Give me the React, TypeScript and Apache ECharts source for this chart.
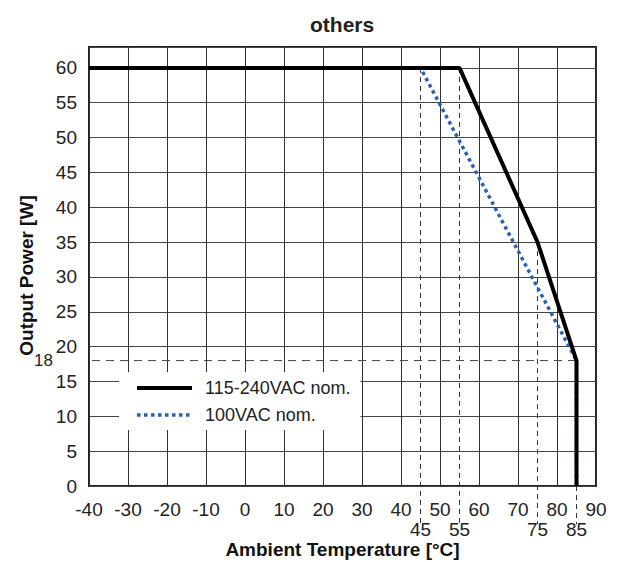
import React, { useEffect, useRef } from "react";
import * as echarts from "echarts";

const FONT = "'Liberation Sans', Arial, sans-serif";

const TITLE = "others";
const X_NAME = "Ambient Temperature [°C]";
const Y_NAME = "Output Power [W]";

const X_MIN = -40;
const X_MAX = 90;
const Y_MIN = 0;
const Y_MAX = 63;

const EXTRA_X_LABELS = [45, 55, 75, 85];
const EXTRA_Y_LABELS = [18];

const SERIES_A_NAME = "115-240VAC nom.";
const SERIES_A: [number, number][] = [
  [-40, 60],
  [55, 60],
  [75, 35],
  [85, 18],
  [85, 0],
];

const SERIES_B_NAME = "100VAC nom.";
const SERIES_B: [number, number][] = [
  [-40, 60],
  [45, 60],
  [85, 18],
  [85, 0],
];

// dashed reference lines (vertical / horizontal)
const REF_VERTICAL: [number, number][][] = [
  [[45, 60], [45, -5.5]],
  [[55, 60], [55, -5.5]],
  [[75, 35], [75, -5.5]],
  [[85, 0], [85, -5.5]],
];
const REF_HORIZONTAL: [number, number][][] = [[[-50, 18], [85, 18]]];

const BLACK = "#000";
const BLUE = "#2b5fb4";

export default function App() {
  const ref = useRef<HTMLDivElement>(null);

  useEffect(() => {
    if (!ref.current) return;
    const chart = echarts.init(ref.current, undefined, { renderer: "svg" });

    const refSeries: any[] = [];
    REF_VERTICAL.forEach((seg) =>
      refSeries.push({
        type: "line",
        data: seg,
        symbol: "none",
        silent: true,
        clip: false,
        z: 3,
        lineStyle: { color: "#333", width: 1, type: [5, 4] },
      })
    );
    REF_HORIZONTAL.forEach((seg) =>
      refSeries.push({
        type: "line",
        data: seg,
        symbol: "none",
        silent: true,
        clip: false,
        z: 3,
        lineStyle: { color: "#444", width: 1, type: [8, 6] },
      })
    );

    chart.setOption({
      animation: false,
      backgroundColor: "#fff",
      textStyle: { fontFamily: FONT },
      title: {
        text: TITLE,
        left: 305,
        top: 9,
        textStyle: { fontFamily: FONT, fontSize: 21, fontWeight: "bold", color: "#222" },
      },
      grid: {
        left: 89,
        top: 47,
        right: 23,
        bottom: 76,
        containLabel: false,
        outerBoundsMode: "none",
        show: true,
        borderColor: "#222",
        borderWidth: 2,
        backgroundColor: "transparent",
      },
      legend: {
        data: [
          { name: SERIES_A_NAME, lineStyle: { width: 4, color: BLACK } },
          { name: SERIES_B_NAME, lineStyle: { width: 3.5, color: BLUE, type: "dotted" } },
        ],
        orient: "vertical",
        left: 119,
        top: 372,
        backgroundColor: "#fff",
        padding: [6, 10, 5, 16],
        itemWidth: 55,
        itemHeight: 14,
        itemGap: 7,
        itemStyle: { opacity: 0 },
        textStyle: { fontFamily: FONT, fontSize: 18, color: "#222", lineHeight: 20, padding: [0, 0, 0, 8] },
      },
      xAxis: [
        {
          type: "value",
          position: "bottom",
          min: X_MIN,
          max: X_MAX,
          interval: 10,
          axisLine: { show: false },
          axisTick: { show: false },
          axisLabel: { fontFamily: FONT, fontSize: 19, color: "#222", margin: 14 },
          splitLine: { show: true, lineStyle: { color: "#333", width: 1 } },
        },
        {
          type: "value",
          position: "bottom",
          offset: 20,
          min: X_MIN,
          max: X_MAX,
          interval: 5,
          axisLine: { show: false },
          axisTick: { show: false },
          splitLine: { show: false },
          axisLabel: {
            fontFamily: FONT,
            fontSize: 19,
            color: "#222",
            margin: 14,
            formatter: (v: number) => (EXTRA_X_LABELS.includes(v) ? String(v) : ""),
          },
          name: X_NAME,
          nameLocation: "middle",
          nameGap: 34,
          nameMoveOverlap: false,
          nameTextStyle: { fontFamily: FONT, fontSize: 19, fontWeight: "bold", color: "#111" },
        },
      ],
      yAxis: [
        {
          type: "value",
          position: "left",
          min: Y_MIN,
          max: Y_MAX,
          interval: 5,
          axisLine: { show: false },
          axisTick: { show: false },
          axisLabel: {
            fontFamily: FONT,
            fontSize: 19,
            color: "#222",
            margin: 12,
            formatter: (v: number) => (v % 5 === 0 ? String(v) : ""),
          },
          splitLine: { show: true, lineStyle: { color: "#444", width: 1 } },
          name: Y_NAME,
          nameLocation: "middle",
          nameGap: 53,
          nameMoveOverlap: false,
          nameTextStyle: { fontFamily: FONT, fontSize: 19, fontWeight: "bold", color: "#111", padding: [0, 18, 0, 0] },
        },
        {
          type: "value",
          position: "left",
          offset: 28,
          min: Y_MIN,
          max: Y_MAX,
          interval: 1,
          axisLine: { show: false },
          axisTick: { show: false },
          splitLine: { show: false },
          axisLabel: {
            fontFamily: FONT,
            fontSize: 17,
            color: "#222",
            margin: 8,
            formatter: (v: number) => (EXTRA_Y_LABELS.includes(v) ? String(v) : ""),
          },
        },
      ],
      series: [
        ...refSeries,
        {
          name: SERIES_B_NAME,
          type: "line",
          data: SERIES_B,
          symbol: "none",
          z: 4,
          color: BLUE,
          lineStyle: { color: BLUE, width: 3.5, type: "dotted" },
        },
        {
          name: SERIES_A_NAME,
          type: "line",
          data: SERIES_A,
          symbol: "none",
          z: 5,
          color: BLACK,
          lineStyle: { color: BLACK, width: 4 },
        },
      ],
    });

    return () => chart.dispose();
  }, []);

  return (
    <div
      ref={ref}
      style={{ position: "fixed", left: 0, top: 0, width: 619, height: 562, background: "#fff" }}
    />
  );
}
